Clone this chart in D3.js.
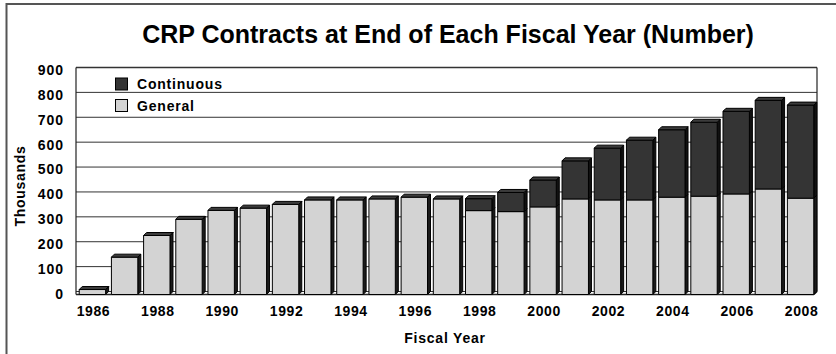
<!DOCTYPE html>
<html>
<head>
<meta charset="utf-8">
<script src="https://cdn.jsdelivr.net/npm/d3@7"></script>
<style>
  body { margin: 0; background: #fff; }
  svg { display: block; font-family: "Liberation Sans", Arial, sans-serif; font-weight: bold; }
</style>
</head>
<body>
<svg width="836" height="354"></svg>
<script>
// data, thousands of contracts
const years = d3.range(1986, 2009).map(String);
const general = [20, 150, 237, 302, 338, 347, 362, 380, 380, 384, 391, 384,
                 337, 333, 352, 384, 380, 380, 391, 395, 404, 424, 387];
const continuous = [0, 0, 0, 0, 0, 0, 0, 0, 0, 0, 0, 0,
                    48, 77, 108, 153, 208, 240, 271, 297, 332, 356, 374];
const seriesNames = ["General", "Continuous"];
const yTicks = [0, 100, 200, 300, 400, 500, 600, 700, 800, 900];

const svg = d3.select("svg");
const colors = { General: "#d3d3d3", Continuous: "#343434" };
const sideColors = { General: "#1a1a1a", Continuous: "#111" };
const depth = 3;

const plot = { left: 76, right: 817, top: 67.5, bottom: 291.5 };

const table = years.map((y, i) => ({ year: y, General: general[i], Continuous: continuous[i] }));
const stacked = d3.stack().keys(seriesNames)(table);

const x = d3.scaleBand().domain(years).range([plot.left, plot.right])
  .paddingInner(0.18).paddingOuter(0.1);
const y = d3.scaleLinear().domain([0, 900]).range([plot.bottom, plot.top]);
const yf = v => y(v) + depth; // front plane

// outer frame (only top/left visible)
svg.append("rect").attr("x", 6.5).attr("y", 4).attr("width", 900).attr("height", 400)
  .attr("fill", "none").attr("stroke", "#555").attr("stroke-width", 2);

// title
svg.append("text").attr("x", 448).attr("y", 43).attr("text-anchor", "middle")
  .attr("font-size", 25).text("CRP Contracts at End of Each Fiscal Year (Number)");

// back wall gridlines
svg.append("g").selectAll("line").data(yTicks).join("line")
  .attr("x1", plot.left).attr("x2", plot.right)
  .attr("y1", d => y(d)).attr("y2", d => y(d))
  .attr("stroke", "#333").attr("stroke-width", d => d === 900 ? 1.5 : 1);
// walls and floor
const wall = svg.append("g").attr("fill", "none").attr("stroke", "#222").attr("stroke-width", 1.2);
wall.append("line").attr("x1", plot.left).attr("x2", plot.left).attr("y1", plot.top).attr("y2", yf(0));
wall.append("line").attr("x1", plot.right).attr("x2", plot.right).attr("y1", plot.top).attr("y2", y(0));
wall.append("line").attr("x1", plot.left).attr("x2", plot.right - depth).attr("y1", yf(0)).attr("y2", yf(0))
  .attr("stroke-width", 1.5);
wall.append("line").attr("x1", plot.right - depth).attr("x2", plot.right).attr("y1", yf(0)).attr("y2", y(0));

// bars: front, side and top faces
const w = x.bandwidth();
const barG = svg.append("g").attr("stroke", "#000").attr("stroke-width", 1).attr("stroke-linejoin", "round");
stacked.forEach(s => {
  const key = s.key;
  const g = barG.append("g");
  g.selectAll(".side").data(s).join("path").attr("class", "side")
    .attr("fill", sideColors[key])
    .attr("d", d => {
      const x0 = x(d.data.year) + w;
      return `M${x0},${yf(d[1])}L${x0 + depth},${yf(d[1]) - depth}L${x0 + depth},${yf(d[0]) - depth}L${x0},${yf(d[0])}Z`;
    });
  g.selectAll(".front").data(s).join("rect").attr("class", "front")
    .attr("x", d => x(d.data.year)).attr("width", w)
    .attr("y", d => yf(d[1])).attr("height", d => yf(d[0]) - yf(d[1]))
    .attr("fill", colors[key]);
});
// top face on the top segment
const topS = stacked[stacked.length - 1];
barG.append("g").selectAll("path").data(topS).join("path")
  .attr("fill", "#3c3c3c")
  .attr("d", d => {
    const x0 = x(d.data.year), yt = yf(d[1]);
    return `M${x0},${yt}L${x0 + depth},${yt - depth}L${x0 + w + depth},${yt - depth}L${x0 + w},${yt}Z`;
  });

// y tick labels
svg.append("g").selectAll("text").data(yTicks).join("text")
  .attr("x", 64).attr("y", d => yf(d) - 0.5).attr("dy", "0.35em")
  .attr("text-anchor", "end").attr("font-size", 14).attr("letter-spacing", 1)
  .text(d => d);

// x tick labels, every other year
svg.append("g").selectAll("text").data(years.filter((d, i) => i % 2 === 0)).join("text")
  .attr("x", d => x(d) + w / 2 + 1).attr("y", 316)
  .attr("text-anchor", "middle").attr("font-size", 14).attr("letter-spacing", 0.6)
  .text(d => d);

// axis titles
svg.append("text").attr("x", 445).attr("y", 343).attr("text-anchor", "middle")
  .attr("font-size", 14).attr("letter-spacing", 0.8).text("Fiscal Year");
svg.append("text").attr("transform", "translate(25,186) rotate(-90)").attr("text-anchor", "middle")
  .attr("font-size", 14).attr("letter-spacing", 0.7).text("Thousands");

// legend
const legend = svg.append("g");
const legendItems = ["Continuous", "General"];
legendItems.forEach((k, i) => {
  const ly = 78 + i * 21.5;
  legend.append("rect").attr("x", 115.5).attr("y", ly).attr("width", 12).attr("height", 12)
    .attr("fill", colors[k]).attr("stroke", "#000").attr("stroke-width", 1);
  legend.append("text").attr("x", 137).attr("y", ly + 11.3)
    .attr("font-size", 14).attr("letter-spacing", 0.8).text(k);
});
</script>
</body>
</html>
